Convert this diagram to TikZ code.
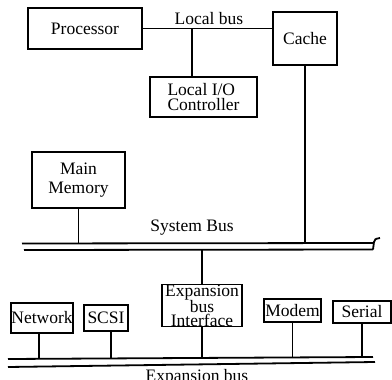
\documentclass[tikz,border=0pt]{standalone}
\usepackage{fontspec}
\setmainfont{Liberation Serif}
\begin{document}
\begin{tikzpicture}[x=1pt,y=-1pt,
  box/.style={draw, line width=1.8pt, inner sep=0pt, align=center, font=\fontsize{17.5}{16}\selectfont},
  wire/.style={line width=1.8pt},
  lbl/.style={inner sep=0pt, font=\fontsize{17.5}{16}\selectfont}]
\useasboundingbox (0,0) rectangle (392,380);
% boxes
\node[box, minimum width=114pt, minimum height=41pt] (proc) at (85,28.5) {Processor};
\node[box, minimum width=64pt, minimum height=53pt] (cache) at (305,38.5) {Cache};
\node[box, minimum width=107pt, minimum height=40pt, align=left, font=\fontsize{17.5}{15}\selectfont] (lio) at (203.5,97) {Local I/O\\Controller};
\node[box, minimum width=93pt, minimum height=56pt, font=\fontsize{17.5}{19.5}\selectfont] (mem) at (78.5,180) {Main\\Memory};
\node[box, minimum width=80pt, minimum height=39pt, font=\fontsize{17.5}{12}\selectfont] (ebi) at (202,305.5) {Expansion\\bus\\Interface};
\node[box, minimum width=62pt, minimum height=30pt] (net) at (42,318) {Network};
\node[box, minimum width=44pt, minimum height=26pt] (scsi) at (106,318) {SCSI};
\node[box, minimum width=57pt, minimum height=23pt] (modem) at (292.5,310.5) {Modem};
\node[box, minimum width=58pt, minimum height=22pt] (serial) at (362,312) {Serial};
% labels
\node[lbl] (lbus) at (209,19) {Local bus};
\node[lbl] (sbus) at (192,228) {System Bus};
\node[lbl, anchor=base] (ebus) at (197,381) {Expansion bus};
% system bus
\coordinate (sbTL) at (22,243.5);
\coordinate (sbTR) at (373,243);
\coordinate (sbBL) at (24,250);
\coordinate (sbBR) at (373,249.5);
\draw[wire] (sbTL) -- (sbTR);
\draw[wire] (sbBL) -- (sbBR);
\coordinate (curlA) at (374,242);
\coordinate (curlB) at (380,238);
\draw[wire] (sbBR) -- (curlA) .. controls (375,239) .. (curlB);
% expansion bus
\coordinate (ebTL) at (8,359);
\coordinate (ebTR) at (373,357);
\coordinate (ebBL) at (8,367);
\coordinate (ebBR) at (375,362);
\draw[wire] (ebTL) -- (ebTR);
\draw[wire] (ebBL) -- (ebBR);
% local bus
\draw[wire] (proc.east) -- (proc.east -| cache.west);
\coordinate (jl) at (192,28.5);
\draw[wire] (jl) -- (jl |- lio.north);
% to system bus
\draw[wire] (cache.south) -- (cache.south |- sbTR);
\draw[wire] (mem.south) -- (mem.south |- sbTL);
\draw[wire] (ebi.north) -- (ebi.north |- sbBL);
% to expansion bus
\coordinate (ebY) at (0,358);
\draw[wire] ([xshift=-3pt]net.south) -- ([xshift=-3pt]net.south |- ebY);
\draw[wire] ([xshift=5pt]scsi.south) -- ([xshift=5pt]scsi.south |- ebY);
\draw[wire] (ebi.south) -- (ebi.south |- ebY);
\draw[wire] (modem.south) -- (modem.south |- ebY);
\draw[wire] (serial.south) -- (serial.south |- ebY);
\end{tikzpicture}
\end{document}
